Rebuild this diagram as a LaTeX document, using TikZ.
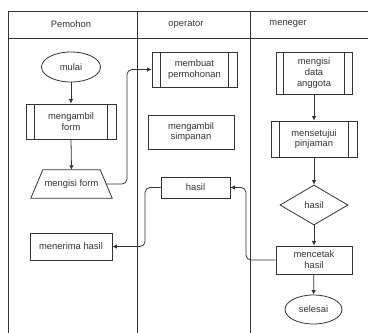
\documentclass[tikz,border=0pt]{standalone}
\usepackage{fontspec}
\setmainfont{Liberation Sans}
\usetikzlibrary{shapes.geometric,arrows.meta}

\tikzset{
  line/.style={draw=black!80, line width=0.8pt},
  lbl/.style={font=\fontsize{9.4}{10.8}\selectfont, text=black!80, align=center, inner sep=1pt},
  box/.style={lbl, line, rectangle},
  proc/.style={box, path picture={
      \draw[black!80, line width=0.8pt]
        ([xshift=#1]path picture bounding box.north west) -- ([xshift=#1]path picture bounding box.south west)
        ([xshift=-#1]path picture bounding box.north east) -- ([xshift=-#1]path picture bounding box.south east);}},
  proc/.default=8.5pt,
  term/.style={lbl, line, ellipse},
  decide/.style={lbl, line, diamond, aspect=1.7},
  conn/.style={line, rounded corners=5pt, -{Latex[length=4.5pt,width=4.5pt]}},
}

\begin{document}
\begin{tikzpicture}[x=1pt,y=-1pt]
  \useasboundingbox (0,0) rectangle (368,333);

  % swimlane frame
  \draw[line] (368,11) -- (8,11) -- (8,333);
  \draw[line] (8,38) -- (368,38);
  \draw[line] (137,11) -- (137,333);
  \draw[line] (250,11) -- (250,333);
  \node[lbl] (h1) at (71,24) {Pemohon};
  \node[lbl] (h2) at (186,24) {operator};
  \node[lbl] (h3) at (288,24) {meneger};

  % Pemohon lane
  \node[term, minimum width=59pt, minimum height=30pt] (mulai) at (71,67) {mulai};
  \node[proc, minimum width=90pt, minimum height=35pt] (ambil) at (71,121.5) {mengambil\\form};
  % manual input: trapezoid drawn on the corners of an invisible box
  \node[lbl, minimum width=81pt, minimum height=28pt] (isi) at (71.5,184) {mengisi form};
  \draw[line] (isi.south west) -- ([xshift=12pt]isi.north west)
              -- ([xshift=-12pt]isi.north east) -- (isi.south east) -- cycle;
  \coordinate (isiR) at ([xshift=-6pt]isi.east);
  \node[box, minimum width=82pt, minimum height=27pt] (terima) at (71,246.5) {menerima hasil};

  % operator lane
  \node[proc, minimum width=85pt, minimum height=35pt] (buat) at (194.5,69.5) {membuat\\permohonan};
  \node[box, minimum width=86pt, minimum height=34pt] (simpan) at (191,132) {mengambil\\simpanan};
  \node[box, minimum width=69pt, minimum height=21pt] (hasilop) at (195.5,187.5) {hasil};

  % meneger lane
  \node[proc=7.5pt, minimum width=76pt, minimum height=42pt] (data) at (314,73) {mengisi\\data\\anggota};
  \node[proc, minimum width=86pt, minimum height=36pt] (setuju) at (314,139) {mensetujui\\pinjaman};
  \node[decide, minimum width=68pt, minimum height=40pt, inner sep=0pt] (cek) at (314,205) {hasil};
  \node[box, minimum width=76pt, minimum height=28pt] (cetak) at (314,260) {mencetak\\hasil};
  \node[term, minimum width=57pt, minimum height=29pt] (selesai) at (313.5,309.5) {selesai};

  % bend points of the routed connectors
  \coordinate (r1) at (127,0);
  \coordinate (r2) at (145,0);
  \coordinate (r3) at (246,0);

  % connectors
  \draw[conn] (mulai) -- (ambil);
  \draw[conn] (ambil.south) -- (isi.north);
  \draw[conn] (isiR) -- (isiR -| r1) -- (r1 |- buat.west) -- (buat.west);
  \draw[conn] (hasilop.west) -- (hasilop.west -| r2) -- (r2 |- terima.east) -- (terima.east);
  \draw[conn] (data) -- (setuju);
  \draw[conn] (setuju) -- (cek);
  \draw[conn] (cek) -- (cetak);
  \draw[conn] (cetak) -- (selesai);
  \draw[conn] (cetak.west) -- (cetak.west -| r3) -- (r3 |- hasilop.east) -- (hasilop.east);
\end{tikzpicture}
\end{document}
